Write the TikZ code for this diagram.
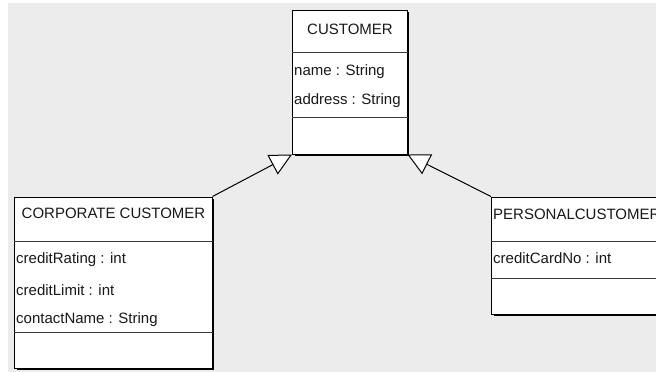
\documentclass[tikz,border=0pt]{standalone}
\usepackage{fontspec}
\setmainfont{Liberation Sans}
\usetikzlibrary{arrows.meta,shadows}
\definecolor{bggray}{RGB}{236,236,236}
\definecolor{seplinec}{RGB}{60,60,60}
\definecolor{txtc}{RGB}{25,25,25}
\tikzset{
  classbox/.style={draw=black, line width=1pt, fill=white, rectangle, inner sep=0pt,
    drop shadow={shadow xshift=2pt, shadow yshift=-2pt, fill=black, opacity=1}},
  sepline/.style={draw=seplinec, line width=1pt},
  lbl/.style={inner sep=0pt, anchor=west, text=txtc, font=\fontsize{15pt}{18pt}\selectfont},
  ttl/.style={inner sep=0pt, text=txtc, font=\fontsize{15pt}{18pt}\selectfont},
  gen/.style={draw=black, line width=1pt,
    -{Triangle[length=22pt, width=22pt, fill=white, line width=1pt]}}
}
\begin{document}
\begin{tikzpicture}[x=1pt, y=-1pt]
\useasboundingbox (0,0) rectangle (656,372);
\clip (0,0) rectangle (656,372);
\fill[white] (0,0) rectangle (656,372);
\fill[bggray] (8,3) rectangle (660,380);

% CUSTOMER
\node[classbox, minimum width=114.5pt, minimum height=144pt] (cust) at (349.75,82) {};
\draw[sepline] (cust.west |- 0,52.5) -- (cust.east |- 0,52.5);
\draw[sepline] (cust.west |- 0,117) -- (cust.east |- 0,117);
\node[ttl] (custT) at (350,29) {CUSTOMER};
\node[lbl] (custA1) at (294,72) {name : String};
\node[lbl] (custA2) at (294,101) {address : String};

% CORPORATE CUSTOMER
\node[classbox, minimum width=197.5pt, minimum height=171pt] (corp) at (113.25,282.5) {};
\draw[sepline] (corp.west |- 0,241) -- (corp.east |- 0,241);
\draw[sepline] (corp.west |- 0,332) -- (corp.east |- 0,332);
\node[ttl] (corpT) at (113.5,213) {CORPORATE CUSTOMER};
\node[lbl] (corpA1) at (16,260) {creditRating : int};
\node[lbl] (corpA2) at (16,290) {creditLimit : int};
\node[lbl] (corpA3) at (16,320) {contactName : String};

% PERSONALCUSTOMER
\node[classbox, minimum width=208.5pt, minimum height=117pt] (pers) at (595.75,255.5) {};
\draw[sepline] (pers.west |- 0,241) -- (pers.east |- 0,241);
\draw[sepline] (pers.west |- 0,278) -- (pers.east |- 0,278);
\node[lbl] (persT) at (493,214) {PERSONALCUSTOMER};
\node[lbl] (persA1) at (493,258) {creditCardNo : int};

% generalisations
\draw[gen] (corp.north east) -- (cust.south west);
\draw[gen] (pers.north west) -- (cust.south east);
\end{tikzpicture}
\end{document}
